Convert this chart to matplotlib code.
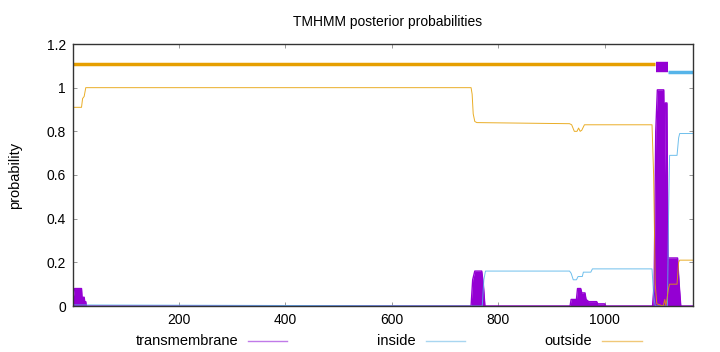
import matplotlib
matplotlib.use("Agg")
import matplotlib.pyplot as plt
import numpy as np

plt.rcParams['font.family'] = ['Liberation Sans', 'DejaVu Sans']

# transmembrane posterior probability (breakpoints)
tm_x = [1, 4, 17, 18, 22, 23, 25, 26, 749, 752, 756, 769, 772, 775, 935, 937, 947, 949, 955, 957,
        963, 965, 970, 985, 987, 1000, 1002, 1090, 1093, 1096, 1099, 1111, 1113, 1114, 1117, 1119,
        1137, 1140, 1143, 1166]
tm_y = [0.03, 0.08, 0.08, 0.04, 0.04, 0.02, 0.02, 0.0, 0.0, 0.12, 0.16, 0.16, 0.10, 0.0, 0.0, 0.03,
        0.03, 0.08, 0.08, 0.06, 0.06, 0.03, 0.02, 0.02, 0.01, 0.01, 0.0, 0.0, 0.1, 0.8, 0.99, 0.99,
        0.6, 0.93, 0.93, 0.22, 0.22, 0.1, 0.0, 0.0]

# inside posterior probability
in_x = [1, 748, 770, 773, 776, 934, 937, 941, 947, 950, 958, 960, 974, 977, 1089, 1092, 1095,
        1118, 1120, 1122, 1136, 1139, 1141, 1166]
in_y = [0.005, 0.0, 0.0, 0.12, 0.16, 0.16, 0.15, 0.12, 0.12, 0.135, 0.135, 0.155, 0.155, 0.17,
        0.17, 0.05, 0.0, 0.0, 0.4, 0.69, 0.69, 0.77, 0.79, 0.79]

# outside posterior probability
out_x = [1, 17, 19, 22, 25, 749, 751, 753, 756, 760, 934, 938, 943, 948, 951, 954, 957, 962, 1089,
         1092, 1095, 1098, 1110, 1113, 1115, 1120, 1122, 1136, 1139, 1141, 1166]
out_y = [0.91, 0.91, 0.95, 0.96, 1.0, 1.0, 0.97, 0.88, 0.845, 0.84, 0.835, 0.83, 0.80, 0.80, 0.815,
         0.80, 0.805, 0.83, 0.83, 0.6, 0.1, 0.01, 0.0, 0.03, 0.0, 0.08, 0.1, 0.1, 0.2, 0.21, 0.21]

# predicted topology bars (start, end, level)
topo_out = (1, 1095, 1.11)
topo_tm = (1096, 1119, 1.095)
topo_in = (1119, 1166, 1.072)

C_TM = '#9400d3'
C_IN = '#56b4e9'
C_OUT = '#e69f00'
LEG_TM = '#c07ae8'
LEG_IN = '#a8d6f0'
LEG_OUT = '#f0c878'

fig = plt.figure(figsize=(7.2, 3.52), dpi=100)
ax = fig.add_axes([73/720, 1-306/352, (693-73)/720, (306-44)/352])

ax.fill_between(tm_x, 0, tm_y, color=C_TM, lw=0)
ax.plot(tm_x, tm_y, color=C_TM, lw=1.0)
ax.plot(in_x, in_y, color=C_IN, lw=0.7, alpha=0.85)
ax.plot(out_x, out_y, color=C_OUT, lw=0.7, alpha=0.85)

ax.plot(topo_out[:2], [topo_out[2]]*2, color=C_OUT, lw=2.5, solid_capstyle='butt')
ax.plot(topo_tm[:2], [topo_tm[2]]*2, color=C_TM, lw=7.5, solid_capstyle='butt')
ax.plot(topo_in[:2], [topo_in[2]]*2, color=C_IN, lw=2.5, solid_capstyle='butt')

ax.set_xlim(1, 1166)
ax.set_ylim(0, 1.2)
ax.set_xticks([200, 400, 600, 800, 1000])
ax.set_yticks([0, 0.2, 0.4, 0.6, 0.8, 1.0, 1.2])
ax.set_yticklabels(['0', '0.2', '0.4', '0.6', '0.8', '1', '1.2'])
ax.tick_params(direction='in', top=True, right=True, length=3, width=0.6,
               labelsize=10, colors='#888888', labelcolor='black', pad=5)
for s in ax.spines.values():
    s.set_linewidth(1.0)
    s.set_color('#333333')
ax.set_ylabel('probability', fontsize=10.5, labelpad=18)

fig.text(388/720, 1-22/352, 'TMHMM posterior probabilities', ha='center', va='center', fontsize=10)

# legend row
ly = 1 - 341/352
items = [('transmembrane', 238, 248, 287, LEG_TM), ('inside', 416, 426, 465, LEG_IN),
         ('outside', 592, 602, 642, LEG_OUT)]
for lab, tx, x0, x1, c in items:
    fig.text(tx/720, ly, lab, ha='right', va='center', fontsize=10.5)
    fig.add_artist(matplotlib.lines.Line2D([x0/720, x1/720], [ly, ly], color=c, lw=1.0,
                                           transform=fig.transFigure))

fig.savefig('out.png', dpi=100)
